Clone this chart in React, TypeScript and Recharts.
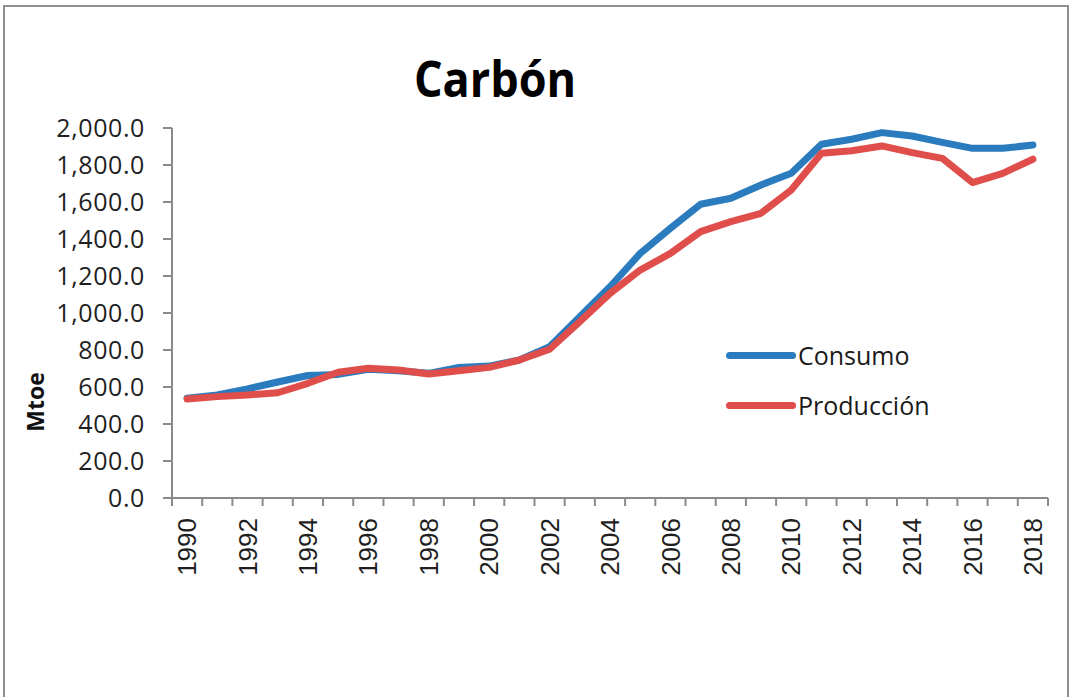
import { LineChart, Line, XAxis, YAxis, Legend } from "recharts";

const years = [
  1990, 1991, 1992, 1993, 1994, 1995, 1996, 1997, 1998, 1999, 2000, 2001, 2002, 2003, 2004,
  2005, 2006, 2007, 2008, 2009, 2010, 2011, 2012, 2013, 2014, 2015, 2016, 2017, 2018,
];

const consumo = [
  539, 557, 590, 627, 662, 668, 696, 688, 674, 706, 713, 746, 818, 980, 1142,
  1322, 1458, 1588, 1620, 1692, 1755, 1912, 1939, 1975, 1957, 1922, 1890, 1890, 1908,
];

const produccion = [
  535, 548, 557, 569, 620, 680, 701, 692, 670, 688, 706, 746, 804, 953, 1106,
  1232, 1322, 1440, 1494, 1539, 1665, 1863, 1877, 1903, 1867, 1836, 1705, 1755, 1831,
];

const yTicks = [0, 200, 400, 600, 800, 1000, 1200, 1400, 1600, 1800, 2000];
const xLabelTicks = years.filter((y) => y % 2 === 0);
// Excel-style ticks sit between categories
const xBoundaryTicks = [...years.map((y) => y - 0.5), years[years.length - 1] + 0.5];

const data = years.map((year, i) => ({
  year,
  consumo: consumo[i],
  produccion: produccion[i],
}));

const AXIS = "#8a8a8a";
const BLUE = "#2b7bbf";
const RED = "#e04e4b";
const FONT = "'Open Sans', 'Noto Sans', sans-serif";

function fmt(v: number) {
  return v.toLocaleString("en-US", { minimumFractionDigits: 1, maximumFractionDigits: 1 });
}

function YearTick({ x, y, payload }: any) {
  return (
    <text
      x={x}
      y={y}
      transform={`rotate(-90 ${x} ${y})`}
      textAnchor="end"
      dy="0.35em"
      fontFamily="'Liberation Sans', Arial, sans-serif"
      fontSize={26}
      fill="#1f1f1f"
    >
      {payload.value}
    </text>
  );
}

function NoTick() {
  return <g />;
}

function MtoeLabel({ viewBox }: any) {
  const x = viewBox.x + 36;
  const y = viewBox.y + viewBox.height / 2 + 89;
  return (
    <text
      x={x}
      y={y}
      transform={`rotate(-90 ${x} ${y})`}
      textAnchor="middle"
      dy="0.35em"
      fontFamily={FONT}
      fontWeight={700}
      fontSize={23}
      fill="#111"
    >
      Mtoe
    </text>
  );
}

// legend sits inside the plot, so its wrapper is zero-sized and takes no room
function LegendBox({ payload }: any) {
  return (
    <div style={{ fontFamily: FONT, position: "absolute", left: 0, top: 0, width: 260 }}>
      {(payload || []).map((p: any) => (
        <div key={p.value} style={{ display: "flex", alignItems: "center", height: 50 }}>
          <span
            style={{
              display: "inline-block",
              width: 70,
              height: 7,
              borderRadius: 4,
              background: p.color,
              marginRight: 2,
            }}
          />
          <span style={{ fontSize: 25, color: "#1a1a1a" }}>{p.value}</span>
        </div>
      ))}
    </div>
  );
}

export default function App() {
  return (
    <div
      style={{
        position: "fixed",
        left: 0,
        top: 0,
        width: 1073,
        height: 697,
        overflow: "hidden",
        background: "#fff",
      }}
    >
      <div
        style={{
          position: "absolute",
          left: 3,
          top: 5,
          width: 1066,
          height: 720,
          border: "2px solid #8f8f8f",
          boxSizing: "border-box",
        }}
      />
      <div
        style={{
          position: "absolute",
          left: 0,
          width: 990,
          top: 44,
          textAlign: "center",
          fontFamily: FONT,
          fontWeight: 700,
          fontSize: 50,
          lineHeight: "68px",
          color: "#000",
          transform: "scaleX(0.9)",
        }}
      >
        Carbón
      </div>
      <div style={{ position: "absolute", left: 0, top: 0 }}>
        <LineChart
          width={1073}
          height={697}
          data={data}
          margin={{ top: 128, right: 25, left: 0, bottom: 0 }}
        >
          {/* axis 0: line + tick marks between categories, 1px tall so it sits on the plot edge */}
          <XAxis
            xAxisId={0}
            dataKey="year"
            type="number"
            domain={[1989.5, 2018.5]}
            ticks={xBoundaryTicks}
            interval={0}
            tick={<NoTick />}
            axisLine={{ stroke: AXIS, strokeWidth: 2 }}
            tickLine={{ stroke: AXIS, strokeWidth: 2 }}
            tickSize={8}
            height={1}
          />
          <XAxis
            xAxisId={1}
            dataKey="year"
            type="number"
            domain={[1989.5, 2018.5]}
            ticks={xLabelTicks}
            interval={0}
            tick={<YearTick />}
            tickLine={false}
            tickSize={0}
            tickMargin={19}
            axisLine={false}
            height={198}
          />
          <YAxis
            domain={[0, 2000]}
            ticks={yTicks}
            interval={0}
            width={172}
            tickFormatter={fmt}
            tick={{ fontFamily: FONT, fontSize: 25, fill: "#1f1f1f", letterSpacing: 0.6 }}
            tickSize={9}
            tickMargin={18}
            tickLine={{ stroke: AXIS, strokeWidth: 2 }}
            axisLine={{ stroke: AXIS, strokeWidth: 2 }}
            label={<MtoeLabel />}
          />
          <Legend
            content={<LegendBox />}
            wrapperStyle={{ position: "absolute", left: 726, top: 330, width: 0, height: 0 }}
          />
          <Line
            xAxisId={0}
            name="Consumo"
            dataKey="consumo"
            stroke={BLUE}
            strokeWidth={7}
            dot={false}
            type="linear"
            strokeLinejoin="round"
            strokeLinecap="round"
            isAnimationActive={false}
          />
          <Line
            xAxisId={0}
            name="Producción"
            dataKey="produccion"
            stroke={RED}
            strokeWidth={7}
            dot={false}
            type="linear"
            strokeLinejoin="round"
            strokeLinecap="round"
            isAnimationActive={false}
          />
        </LineChart>
      </div>
    </div>
  );
}
